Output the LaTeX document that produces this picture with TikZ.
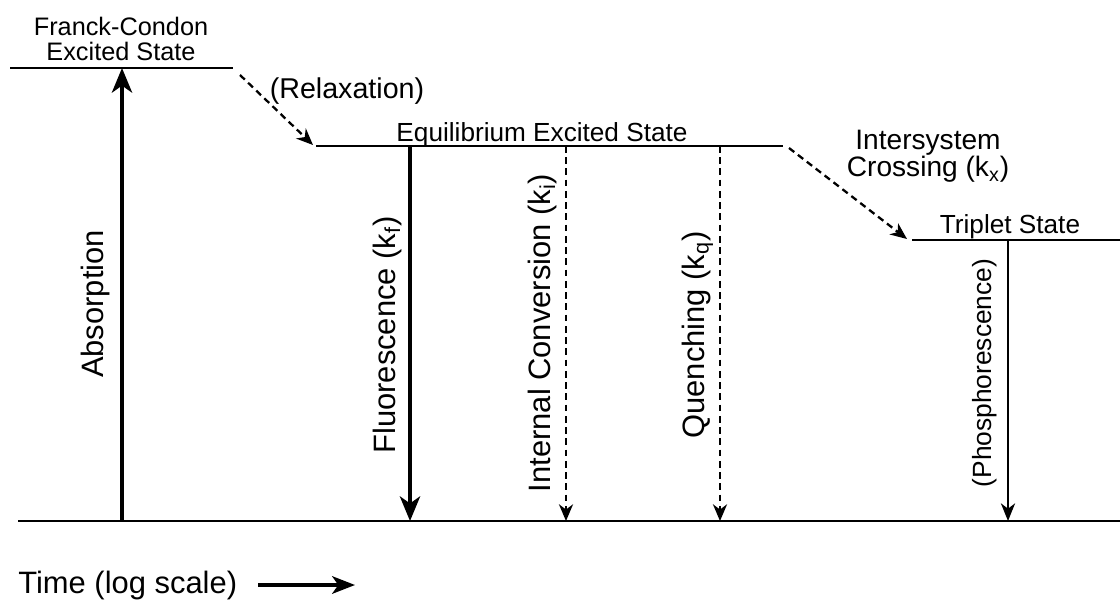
\documentclass[tikz,border=0pt]{standalone}
\usepackage{fontspec}
\setmainfont{Liberation Sans}
\usetikzlibrary{arrows.meta, positioning}
\newcommand\fsz[2]{\fontsize{#1}{#2}\selectfont}
\tikzstyle{level} = [line width=1.6pt]
\tikzstyle{arrow} = [line width=2.2pt,-{Stealth[length=14pt, width=11.5pt, inset=4pt]}]
\tikzstyle{thinarrow} = [line width=1.4pt,-{Stealth[length=10pt, width=8pt, inset=3pt]}]
\tikzstyle{dasharrow} = [line width=1.3pt, dash pattern=on 3.8pt off 2.6pt,-{Stealth[length=9.5pt, width=8pt, inset=3pt]}]
\tikzstyle{txt} = [inner sep=0pt]
\tikzstyle{vtxt} = [inner sep=0pt, rotate=90, anchor=base, font=\fsz{17.6}{20}]

\begin{document}
\begin{tikzpicture}[x=0.02cm, y=-0.02cm]
\useasboundingbox (0,0) rectangle (1120,599);

% Energy levels
\coordinate (fcL) at (10,68);    \coordinate (fcR) at (233,68);
\coordinate (eqL) at (316,146);  \coordinate (eqR) at (783,146);
\coordinate (trL) at (912,240);  \coordinate (trR) at (1120,240);
\coordinate (gndL) at (18,521);  \coordinate (gndR) at (1120,521);
\draw [level] (fcL) -- (fcR);
\draw [level] (eqL) -- (eqR);
\draw [level] (trL) -- (trR);
\draw [level] (gndL) -- (gndR);

% Level names
\node (fcLbl) [txt, anchor=north, align=center, font=\fsz{14.4}{14.4}] at (121,17) {Franck-Condon\\Excited State};
\node (eqLbl) [txt, anchor=base, font=\fsz{14.9}{17}] at (542,141) {Equilibrium Excited State};
\node (trLbl) [txt, anchor=base, font=\fsz{14.9}{17}] at (1010,233) {Triplet State};

% Arrow ends
\coordinate (absB) at (122,521);  \coordinate (absT) at (122,68);
\coordinate (fluT) at (410,146);  \coordinate (fluB) at (410,521);
\coordinate (icT) at (566,146);   \coordinate (icB) at (566,521);
\coordinate (qT) at (720,146);    \coordinate (qB) at (720,521);
\coordinate (phT) at (1008,240);  \coordinate (phB) at (1008,521);
\coordinate (relS) at (240,75);   \coordinate (relE) at (313,145);
\coordinate (iscS) at (789,148);  \coordinate (iscE) at (907,239);

% Transitions
\draw [arrow] (absB) -- (absT);
\draw [dasharrow] (relS) -- (relE);
\draw [arrow] (fluT) -- (fluB);
\draw [dasharrow] (icT) -- (icB);
\draw [dasharrow] (qT) -- (qB);
\draw [dasharrow] (iscS) -- (iscE);
\draw [thinarrow] (phT) -- (phB);

% Transition names
\node (absLbl) [vtxt] at (103,304) {Absorption};
\node (fluLbl) [vtxt] at (395,335) {Fluorescence (k\textsubscript{f})};
\node (icLbl) [vtxt] at (550,333) {Internal Conversion (k\textsubscript{i})};
\node (qLbl) [vtxt] at (704,335) {Quenching (k\textsubscript{q})};
\node (phLbl) [vtxt, font=\fsz{15}{17}] at (991,373) {(Phosphorescence)};
\node (relLbl) [txt, anchor=base, font=\fsz{16.3}{18}] at (347,98) {(Relaxation)};
\node (iscLbl) [txt, anchor=north, align=center, font=\fsz{16}{15.4}] at (928,130) {Intersystem\\Crossing (k\textsubscript{x})};

% Time axis
\node (timeLbl) [txt, anchor=base west, font=\fsz{17.6}{20}] at (18,593) {Time (log scale)};
\coordinate (tS) at (258,585);  \coordinate (tE) at (355,585);
\draw [line width=2pt,-{Stealth[length=13pt, width=10pt, inset=3.5pt]}] (tS) -- (tE);

\end{tikzpicture}
\end{document}
